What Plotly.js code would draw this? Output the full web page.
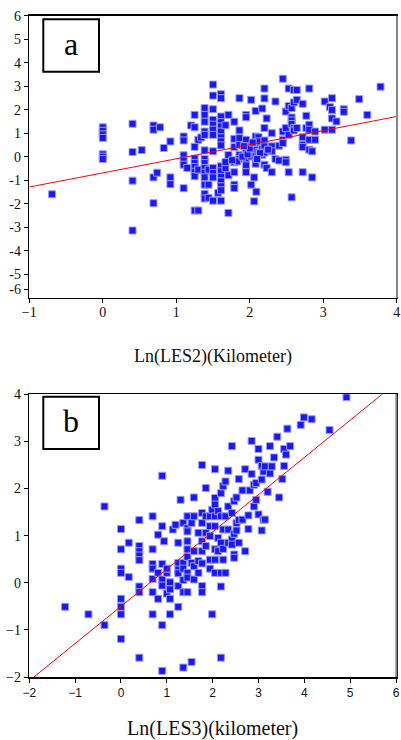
<!DOCTYPE html>
<html>
<head>
<meta charset="utf-8">
<script src="https://cdn.plot.ly/plotly-3.0.1.min.js"></script>
<style>html,body{margin:0;padding:0;background:#fff;}#chart{width:401px;height:740px;}</style>
</head>
<body>
<div id="chart"></div>
<script>
// ---------- Panel a data: Ln(LES2) vs response ----------
const aX = [
  -0.69,
  0,0,0,0,0,0,0,
  0.405,0.405,0.405,0.405,
  0.53,
  0.69,0.69,0.69,0.69,
  0.74, 0.78, 0.83,
  0.92,0.92,0.92,
  1.1,1.1,1.1,1.1,1.1,1.1,
  1.15, 1.2,
  1.25,1.25,1.25,1.25,1.25,1.25,1.25,1.25,1.25,
  1.3,1.3,1.3, 1.34,
  1.386,1.386,1.386,1.386,1.386,1.386,1.386,1.386,1.386,1.386,1.386,1.386,1.386,1.386,
  1.44,1.44,1.44,
  1.5,1.5,1.5,1.5,1.5,1.5,1.5,1.5,1.5,1.5,1.5,1.5,
  1.57,
  1.609,1.609,1.609,1.609,1.609,1.609,1.609,1.609,1.609,1.609,1.609,1.609,1.609,1.609,1.609,1.609,
  1.67,1.67,1.67,
  1.71,1.71,1.71,1.71,
  1.79,1.79,1.79,1.79,1.79,1.79,1.79,
  1.86,1.86,1.86,1.86,1.86,1.86,
  1.95,1.95,1.95,1.95,1.95,1.95,1.95,
  2.02,2.02,2.02,2.02,2.02,
  2.06,2.06,
  2.08,2.08,2.08,2.08,2.08,2.08,
  2.09,
  2.12,2.12,2.12,
  2.17,2.17,2.17,
  2.2,2.2,2.2,2.2,2.2,2.2,2.2,
  2.23,2.23,
  2.3,2.3,2.3,2.3,
  2.35,2.35,
  2.4,2.4,
  2.45,2.45,2.45,2.45,
  2.49,2.49,2.49,2.49,
  2.53,2.53,2.53,2.53,
  2.57,2.57,2.57,2.57,2.57,
  2.6,2.6,2.6,2.6,
  2.64,2.64,2.64,
  2.72,2.72,2.72,2.72,2.72,
  2.77,2.77,
  2.81,2.81,2.81,2.81,2.81,
  2.85,2.85,
  2.89,2.89,
  3.02,3.02,
  3.09,
  3.12,3.12,3.12,3.12,
  3.18,
  3.28,3.28,
  3.38, 3.49, 3.6, 3.78,
  1.83,1.9,1.97,2.0,2.04,2.14,2.25,1.76,1.92,2.1
];
const aY = [
  -1.6,
  1.25,1.1,0.95,0.8,0.1,0.0,-0.1,
  1.4,0.2,-1.02,-3.14,
  0.28,
  1.33,1.15,-0.88,-1.98,
  -0.68, 1.25, 0.37,
  0.65,-0.88,-1.17,
  0.86,0.69,0.06,-0.17,-0.34,-1.34,
  -0.48, 1.33,
  1.78,1.25,0.42,-0.08,-0.27,-0.44,-0.64,-0.83,-2.29,
  -2.29,-0.55,0.72, 0.82,
  2.07,1.78,1.49,1.07,0.93,0.27,-0.1,-0.27,-0.48,-0.68,-0.88,-1.19,-1.58,-1.78,
  -0.55,-1.19,-1.75,
  3.07,2.6,2.02,1.57,1.36,1.15,0.93,0.23,-0.48,-0.69,-0.88,-1.87,
  -1.54,
  2.66,2.49,1.71,1.47,1.29,1.07,0.83,0.65,0.48,-0.41,-0.62,-0.86,-1.05,-1.26,-1.43,-1.87,
  1.34,-0.48,-0.23,
  1.78,0.07,-0.79,-2.39,
  1.49,0.76,0.41,-0.24,-0.66,-1.19,-1.33,
  2.49,1.12,0.79,0.5,0.08,-0.1,
  1.78,1.68,0.72,0.3,-0.13,-0.37,-0.66,
  2.42,0.44,0.16,0.01,-1.19,
  -1.9,-0.88,
  1.95,0.86,0.51,0.28,0.01,-0.3,
  -1.49,
  0.83,0.65,0.2,
  2.05,0.34,0.08,
  2.9,2.48,1.22,0.69,0.44,0.18,-0.34,
  1.63,-0.48,
  1.0,0.44,0.23,-0.66,
  2.35,-0.1,
  0.47,-0.16,
  3.32,1.07,0.72,0.58,
  1.92,1.22,-0.13,-0.24,
  2.9,2.16,0.93,-0.66,
  2.07,1.67,1.54,1.39,-1.73,
  2.84,2.31,1.22,1.12,
  2.84,2.42,1.22,
  2.25,0.83,0.51,0.41,-0.66,
  1.74,1.22,
  2.9,1.36,1.15,0.72,0.3,
  0.23,-0.88,
  0.72,1.07,
  2.35,1.15,
  2.11,
  2.49,1.99,1.63,1.15,
  1.5,
  2.02,1.91,
  0.69, 2.45, 1.78, 2.98,
  -0.2,0.0,0.1,0.35,0.6,0.15,0.3,-0.15,0.45,-0.1
];
// fitted line a
const aFitX = [-1, 4];
const aSlope = 0.6, aIntercept = -0.69;

// ---------- Panel b data: Ln(LES3) vs response ----------
const bX = [
  -1.22, -0.71, -0.36,-0.36,
  0,0,0,0,0,0,0,0,
  0.17,0.17,
  0.4,0.4,0.4,0.4,0.4,0.4,0.4,0.4,
  0.69,0.69,0.69,0.69,0.69,0.69,0.69,
  0.81,0.81,0.81,
  0.9,0.9,0.9,0.9,0.9,0.9,0.9,
  0.94,
  1.0,1.0,1.0,
  1.07,1.07,1.07,1.07,
  1.13, 1.19,
  1.25,1.25,1.25,1.25,1.25,1.25,
  1.3,
  1.36,1.36,1.36,1.36,1.36,1.36,
  1.45,1.45,1.45,1.45,1.45,1.45,1.45,1.45,1.45,
  1.54,1.54,1.54,
  1.59,1.59,1.59,1.59,1.59,
  1.69,1.69,1.69,
  1.77,1.77,1.77,1.77,1.77,1.77,1.77,1.77,
  1.85,1.85,1.85,1.85,
  1.94,1.94,1.94,1.94,1.94,
  1.99,1.99,
  2.05,2.05,2.05,2.05,2.05,2.05,2.05,2.05,
  2.12,2.12,2.12,
  2.18,2.18,2.18,2.18,2.18,2.18,
  2.23,2.23,2.23,2.23,
  2.28,2.28,2.28,
  2.34,2.34,2.34,2.34,
  2.42,2.42,2.42,2.42,
  2.47,2.47,2.47,2.47,
  2.52,2.52,2.52,
  2.57,2.57,2.57,
  2.65,2.65,
  2.71,2.71,
  2.78,2.78,
  2.81,
  2.85,2.85,
  2.9,2.9,
  2.95,2.95,
  3.0,3.0,3.0,
  3.07,3.07,3.07,
  3.11,3.11,
  3.14,3.14,
  3.2,
  3.25,3.25,
  3.29, 3.34, 3.41, 3.45, 3.52,
  3.56,3.56,
  3.6, 3.63, 3.69, 3.92, 3.99, 4.16, 4.55, 4.92
];
const bY = [
  -0.51, -0.67, 1.62,-0.9,
  1.14,0.71,0.3,0.21,-0.34,-0.51,-0.67,-1.19,
  0.85,0.12,
  1.33,0.78,0.67,0.58,0.48,-0.08,-0.2,-1.59,
  1.41,0.71,0.4,0.3,0.08,-0.2,-0.67,
  1.02,-0.34,0.21,
  2.27,1.2,0.4,0.07,-0.06,-0.9,-1.87,
  0.88,
  0.21,0.3,-0.23,
  0.01,-0.14,-0.34,-0.67,
  1.13, 1.23,
  0.85,0.42,0.28,0.2,-0.07,-0.51,
  1.76,
  1.27,0.42,0.3,0.06,-0.2,-1.8,
  1.41,1.16,1.09,0.88,0.71,0.55,0.21,0.11,-0.2,
  -1.68,0.42,1.27,
  1.81,1.41,0.67,0.35,0.07,
  1.06,0.46,0.21,
  2.5,1.48,1.27,0.88,0.67,0.41,-0.07,-0.2,
  2.01,1.41,1.06,0.78,
  1.41,1.2,0.99,0.49,0.3,
  -0.67,1.55,
  2.41,1.8,1.66,1.41,1.2,0.71,0.49,0.21,
  0.95,0.67,1.52,
  1.9,1.41,0.85,0.21,-0.08,-1.59,
  2.05,1.13,0.49,0.72,
  2.15,1.41,0.21,
  2.38,1.62,1.13,0.85,
  2.9,1.48,0.92,0.81,
  1.73,1.04,0.6,0.53,
  1.81,1.27,1.11,
  2.2,1.33,0.85,
  1.96,1.34,
  2.41,0.67,
  1.14,1.43,
  1.96,
  3.01,2.31,
  2.08,1.62,
  1.76,2.12,
  2.84,2.61,1.45,
  2.48,2.19,1.11,
  2.36,1.34,
  1.34,2.47,
  1.93,
  2.9,2.32,
  2.47, 2.66, 3.1, 1.81, 2.2,
  2.84,2.48,
  2.72, 3.27, 2.9, 3.35, 3.51, 3.47, 3.24, 3.94
];
// fitted line b
const bFitX = [-1.9, 5.7];
const bSlope = 0.79, bIntercept = -0.5;

// ---------- axis tick labels ----------
const aYTickVals = [-5.65,-5,-4,-3,-2,-1,0,1,2,3,4,5,6];
const aYTickText = ['-6','-5','-4','-3','-2','-1','0','1','2','3','4','5','6'];
const aXTicks = [-1,0,1,2,3,4];
const bYTicks = [-2,-1,0,1,2,3,4];
const bXTicks = [-2,-1,0,1,2,3,4,5,6];

const W = 401, H = 740;
const px = v => v / W;
const py = v => 1 - v / H;

const serif = 'Liberation Serif, Times New Roman, serif';
const sans = 'Liberation Sans, Arial, sans-serif';

const markerStyle = {symbol:'square', size:7, color:'rgb(25,25,240)', line:{color:'rgb(155,155,255)', width:1}};

const traces = [
  {x:aX, y:aY, xaxis:'x', yaxis:'y', mode:'markers', type:'scatter', marker:markerStyle, hoverinfo:'skip'},
  {x:aFitX, y:aFitX.map(v => aSlope*v + aIntercept), xaxis:'x', yaxis:'y', mode:'lines', type:'scatter', line:{color:'rgb(255,0,0)', width:1}, hoverinfo:'skip'},
  {x:bX, y:bY, xaxis:'x2', yaxis:'y2', mode:'markers', type:'scatter', marker:markerStyle, hoverinfo:'skip'},
  {x:bFitX, y:bFitX.map(v => bSlope*v + bIntercept), xaxis:'x2', yaxis:'y2', mode:'lines', type:'scatter', line:{color:'rgb(255,0,0)', width:1}, hoverinfo:'skip'}
];

const axCommon = {showgrid:false, zeroline:false, showline:true, linecolor:'#000', linewidth:1.5, mirror:true,
  ticks:'outside', ticklen:4, tickcolor:'#000', tickwidth:1, fixedrange:true};

const layout = {
  width: W, height: H,
  margin:{l:0, r:0, t:0, b:0},
  paper_bgcolor:'#fff', plot_bgcolor:'#fff',
  showlegend:false,
  xaxis: Object.assign({}, axCommon, {domain:[px(29.3), px(396.7)], range:[-1,4], anchor:'y',
    tickvals:aXTicks, tickfont:{family:serif, size:14, color:'#111'}, ticklabelstandoff:-3,
    title:{text:'Ln(LES2)(Kilometer)', font:{family:serif, size:18, color:'#111'}, standoff:30}}),
  yaxis: Object.assign({}, axCommon, {domain:[py(297.7), py(15.7)], range:[-6,6], anchor:'x',
    tickvals:aYTickVals, ticktext:aYTickText, tickfont:{family:serif, size:14, color:'#111'}}),
  xaxis2: Object.assign({}, axCommon, {domain:[px(29.3), px(396)], range:[-2,6], anchor:'y2',
    tickvals:bXTicks, tickfont:{family:sans, size:12, color:'#111'},
    title:{text:'Ln(LES3)(kilometer)', font:{family:serif, size:20, color:'#111'}, standoff:28}}),
  yaxis2: Object.assign({}, axCommon, {domain:[py(677), py(394.3)], range:[-2,4], anchor:'x2',
    tickvals:bYTicks, tickfont:{family:serif, size:14, color:'#111'}}),
  shapes: [
    {type:'rect', xref:'paper', yref:'paper', x0:px(43.3), x1:px(99), y0:py(71.7), y1:py(19.3), line:{color:'#000', width:2}, fillcolor:'#fff'},
    {type:'rect', xref:'paper', yref:'paper', x0:px(43.3), x1:px(99), y0:py(449), y1:py(396.7), line:{color:'#000', width:2}, fillcolor:'#fff'},
    {type:'line', xref:'paper', yref:'paper', x0:px(397), x1:px(397), y0:py(297.7), y1:py(15.7), line:{color:'#888', width:2}},
    {type:'line', xref:'paper', yref:'paper', x0:px(396.3), x1:px(396.3), y0:py(677), y1:py(394.3), line:{color:'#888', width:2}}
  ],
  annotations: [
    {xref:'paper', yref:'paper', x:px(71), y:py(44), text:'a', showarrow:false, font:{family:serif, size:32, color:'#000'}, xanchor:'center', yanchor:'middle'},
    {xref:'paper', yref:'paper', x:px(71), y:py(421), text:'b', showarrow:false, font:{family:serif, size:32, color:'#000'}, xanchor:'center', yanchor:'middle'}
  ]
};

Plotly.newPlot('chart', traces, layout, {staticPlot:true, displayModeBar:false});
</script>
</body>
</html>
